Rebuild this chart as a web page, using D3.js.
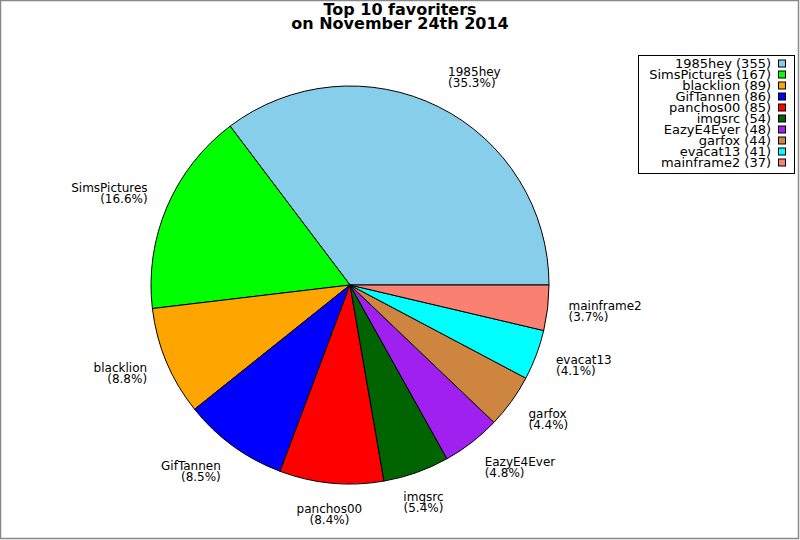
<!DOCTYPE html>
<html>
<head>
<meta charset="utf-8">
<script src="https://cdn.jsdelivr.net/npm/d3@7"></script>
<style>
  body { margin: 0; background: white; }
  text { font-family: "DejaVu Sans", sans-serif; }
</style>
</head>
<body>
<script>
const names = ['1985hey', 'SimsPictures', 'blacklion', 'GifTannen', 'panchos00',
               'imgsrc', 'EazyE4Ever', 'garfox', 'evacat13', 'mainframe2']
const counts = [355, 167, 89, 86, 85, 54, 48, 44, 41, 37]
const colors = ['#87ceeb', '#00ff00', '#ffa500', '#0000ff', '#ff0000',
                '#006400', '#a020f0', '#cd853f', '#00ffff', '#fa8072']
const titleLines = ['Top 10 favoriters', 'on November 24th 2014']

function main(){
    const width = 800
    const height = 540
    const cx = 350, cy = 285, radius = 199, labelRadius = 220

    const svg = d3.select('body')
        .append('svg')
        .attr('width', width)
        .attr('height', height)

    svg.append('rect')
        .attr('x', 0.5).attr('y', 0.5)
        .attr('width', width - 2).attr('height', height - 2)
        .attr('fill', 'white')
        .attr('stroke', '#888')
        .attr('stroke-width', 1.5)

    const total = d3.sum(counts)

    // start at 3 o'clock and go counterclockwise
    const pie = d3.pie()
        .sort(null)
        .startAngle(Math.PI / 2)
        .endAngle(Math.PI / 2 - 2 * Math.PI)
    const arcs = pie(counts)
    const arc = d3.arc().innerRadius(0).outerRadius(radius)

    const g = svg.append('g')
        .attr('transform', `translate(${cx},${cy})`)

    g.selectAll('path')
        .data(arcs)
        .enter()
        .append('path')
        .attr('d', arc)
        .attr('fill', (d, i) => colors[i])
        .attr('stroke', 'black')
        .attr('stroke-width', 1)

    // slice labels
    const lineH = 11
    arcs.forEach(function(d, i){
        const m = (d.startAngle + d.endAngle) / 2
        const c = Math.sin(m)      // horizontal component
        const s = Math.cos(m)      // vertical component (up positive)
        const x = labelRadius * c
        const y = -labelRadius * s
        const top = y - 2 * lineH * (1 + s) / 2
        let anchor = 'middle'
        if (c > 0.4) anchor = 'start'
        else if (c < -0.4) anchor = 'end'
        const t = g.append('text')
            .attr('font-size', '12px')
            .attr('text-anchor', anchor)
        const pct = (counts[i] / total * 100).toFixed(1)
        t.append('tspan').attr('x', x).attr('y', top + 9).text(names[i])
        t.append('tspan').attr('x', x).attr('y', top + 9 + lineH).text('(' + pct + '%)')
    })

    // title
    svg.selectAll('.title')
        .data(titleLines)
        .enter()
        .append('text')
        .attr('class', 'title')
        .attr('x', 400)
        .attr('y', (d, i) => 15 + i * 14)
        .attr('text-anchor', 'middle')
        .attr('font-size', '16px')
        .attr('font-weight', 'bold')
        .text(d => d)

    // legend
    const legend = svg.append('g')
    legend.append('rect')
        .attr('x', 638.5).attr('y', 55.5)
        .attr('width', 156).attr('height', 118)
        .attr('fill', 'white')
        .attr('stroke', 'black')
        .attr('stroke-width', 1)

    const rows = legend.selectAll('.row')
        .data(names)
        .enter()
        .append('g')
        .attr('transform', (d, i) => `translate(0,${63.5 + i * 11})`)
    rows.append('text')
        .attr('x', 771)
        .attr('y', 4.5)
        .attr('text-anchor', 'end')
        .attr('font-size', '13px')
        .text((d, i) => d + ' (' + counts[i] + ')')
    rows.append('rect')
        .attr('x', 778.5).attr('y', -3.5)
        .attr('width', 7).attr('height', 7)
        .attr('fill', (d, i) => colors[i])
        .attr('stroke', 'black')
        .attr('stroke-width', 1)
}

main()
</script>
</body>
</html>
